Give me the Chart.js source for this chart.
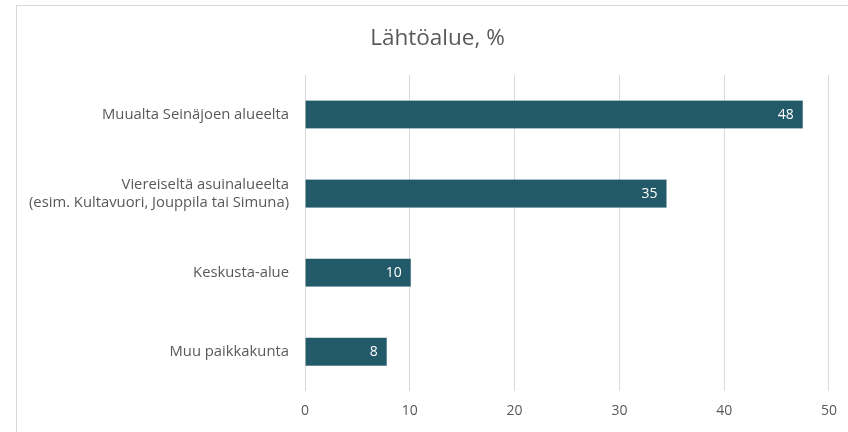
<!DOCTYPE html>
<html>
<head>
<meta charset="utf-8">
<script src="https://cdn.jsdelivr.net/npm/chart.js@4"></script>
<style>
  html, body { margin: 0; padding: 0; background: #fff; }
  #frame { position: absolute; left: 16px; top: 5px; width: 860px; height: 450px; border: 1px solid #d9d9d9; }
  #wrap { position: absolute; left: 0; top: 0; width: 848px; height: 432px; }
</style>
</head>
<body>
<div id="frame"></div>
<div id="wrap"><canvas id="lahtoChart"></canvas></div>
<script>
const categories = [
    "Muualta Seinäjoen alueelta",
    ["Viereiseltä asuinalueelta", "(esim. Kultavuori, Jouppila tai Simuna)"],
    "Keskusta-alue",
    "Muu paikkakunta",
];
const values = [47.5, 34.5, 10.1, 7.8];
const valueLabels = ["48", "35", "10", "8"];
const xTicks = [0, 10, 20, 30, 40, 50];

const fontFamily = "'Open Sans', sans-serif";

// white value labels inside the bar end
const barLabels = {
    id: "barLabels",
    afterLayout(chart) {
        // let the long category label run past the left padding (no clipping)
        chart.scales.y.left = 0;
    },
    afterDatasetsDraw(chart) {
        const ctx = chart.ctx;
        const meta = chart.getDatasetMeta(0);
        ctx.save();
        ctx.fillStyle = "#ffffff";
        ctx.font = "14px " + fontFamily;
        ctx.textAlign = "right";
        ctx.textBaseline = "middle";
        meta.data.forEach((bar, i) => {
            ctx.fillText(valueLabels[i], bar.x - 9, bar.y);
        });
        ctx.restore();
    },
};

new Chart(document.getElementById("lahtoChart"), {
    type: "bar",
    data: {
        labels: categories,
        datasets: [
            {
                data: values,
                backgroundColor: "#235a69",
                borderColor: "#9fb9c0",
                borderWidth: 0.6,
                barThickness: 28,
            },
        ],
    },
    options: {
        indexAxis: "y",
        responsive: true,
        maintainAspectRatio: false,
        animation: false,
        layout: { padding: { left: 45, right: 18, top: 0, bottom: 2 } },
        plugins: {
            legend: { display: false },
            tooltip: { enabled: false },
            title: {
                display: true,
                text: "Lähtöalue, %",
                color: "#595959",
                font: { family: fontFamily, size: 22.5, weight: "normal" },
                padding: { top: 25, bottom: 23 },
            },
        },
        scales: {
            x: {
                min: 0,
                max: 50,
                afterBuildTicks(scale) {
                    scale.ticks = xTicks.map((v) => ({ value: v }));
                },
                grid: { color: "#d9d9d9", lineWidth: 1, drawTicks: false },
                border: { display: false },
                ticks: {
                    color: "#595959",
                    padding: 11,
                    font: { family: fontFamily, size: 14 },
                },
            },
            y: {
                afterFit(scale) {
                    scale.width = 305 - 45;
                },
                grid: { display: false, drawTicks: false },
                border: { display: false },
                ticks: {
                    color: "#595959",
                    padding: 16,
                    font: { family: fontFamily, size: 14.8, lineHeight: 1.25 },
                },
            },
        },
    },
    plugins: [barLabels],
});
</script>
</body>
</html>
